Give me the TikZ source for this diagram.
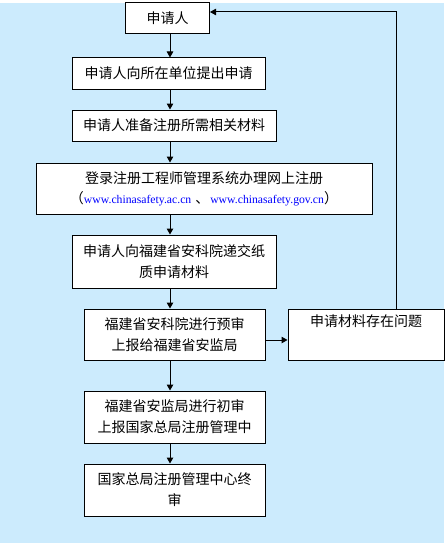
\documentclass[tikz,border=0pt]{standalone}
\usepackage{fontspec}
\setmainfont{Liberation Serif}
\newfontfamily\cjk{Noto Sans CJK SC}
\newfontfamily\urlfont{Liberation Serif}
\usetikzlibrary{arrows.meta}
\definecolor{bgblue}{RGB}{204,235,253}
\definecolor{urlblue}{RGB}{0,0,255}
\tikzset{
  stepbox/.style={draw=black, line width=1pt, fill=white, inner sep=0pt, align=center,
    font=\cjk\fontsize{14}{21}\selectfont},
  arr/.style={line width=1pt, -{Triangle[length=6pt,width=6.5pt]}},
}
\newcommand{\urltext}[1]{{\urlfont\fontsize{11.7}{14}\selectfont\color{urlblue}#1}}
\begin{document}
\begin{tikzpicture}[x=1pt,y=-1pt]
\useasboundingbox (0,0) rectangle (447,543);
\fill[white] (0,0) rectangle (447,543);
\fill[bgblue] (0,3) rectangle (444,543);
\node[stepbox, minimum width=84pt, minimum height=31pt] (b1) at (167.5,18.5) {申请人};
\node[stepbox, minimum width=193pt, minimum height=31pt] (b2) at (168.5,73.5) {申请人向所在单位提出申请};
\node[stepbox, minimum width=204pt, minimum height=31pt] (b3) at (174,125.5) {申请人准备注册所需相关材料};
\node[stepbox, minimum width=336pt, minimum height=51pt] (b4) at (204,188.5)
  {登录注册工程师管理系统办理网上注册\\[-1pt]（\urltext{www.chinasafety.ac.cn}\hspace{4pt}、\hspace{1pt}\urltext{www.chinasafety.gov.cn}）};
\node[stepbox, minimum width=204pt, minimum height=53pt] (b5) at (174,261.5) {申请人向福建省安科院递交纸\\质申请材料};
\node[stepbox, minimum width=181pt, minimum height=51pt] (b6) at (174.5,334.5) {福建省安科院进行预审\\上报给福建省安监局};
\node[stepbox, minimum width=156pt, minimum height=51pt] (side) at (366,334.5) {申请材料存在问题\\\strut};
\node[stepbox, minimum width=181pt, minimum height=52pt] (b7) at (174.5,417) {福建省安监局进行初审\\上报国家总局注册管理中};
\node[stepbox, minimum width=181pt, minimum height=52pt] (b8) at (174.5,490) {国家总局注册管理中心终\\审};
\coordinate (ax) at (170,0);
\coordinate (fb) at (396,12);
\coordinate (hy) at (0,340);
\draw[arr] (b1.south -| ax) -- (b2.north -| ax);
\draw[arr] (b2.south -| ax) -- (b3.north -| ax);
\draw[arr] (b3.south -| ax) -- (b4.north -| ax);
\draw[arr] (b4.south -| ax) -- (b5.north -| ax);
\draw[arr] (b5.south -| ax) -- (b6.north -| ax);
\draw[arr] (b6.south -| ax) -- (b7.north -| ax);
\draw[arr] (b7.south -| ax) -- (b8.north -| ax);
\draw[arr] (b6.east |- hy) -- (side.west |- hy);
\draw[arr] (side.north -| fb) |- (b1.east |- fb);
\end{tikzpicture}
\end{document}
